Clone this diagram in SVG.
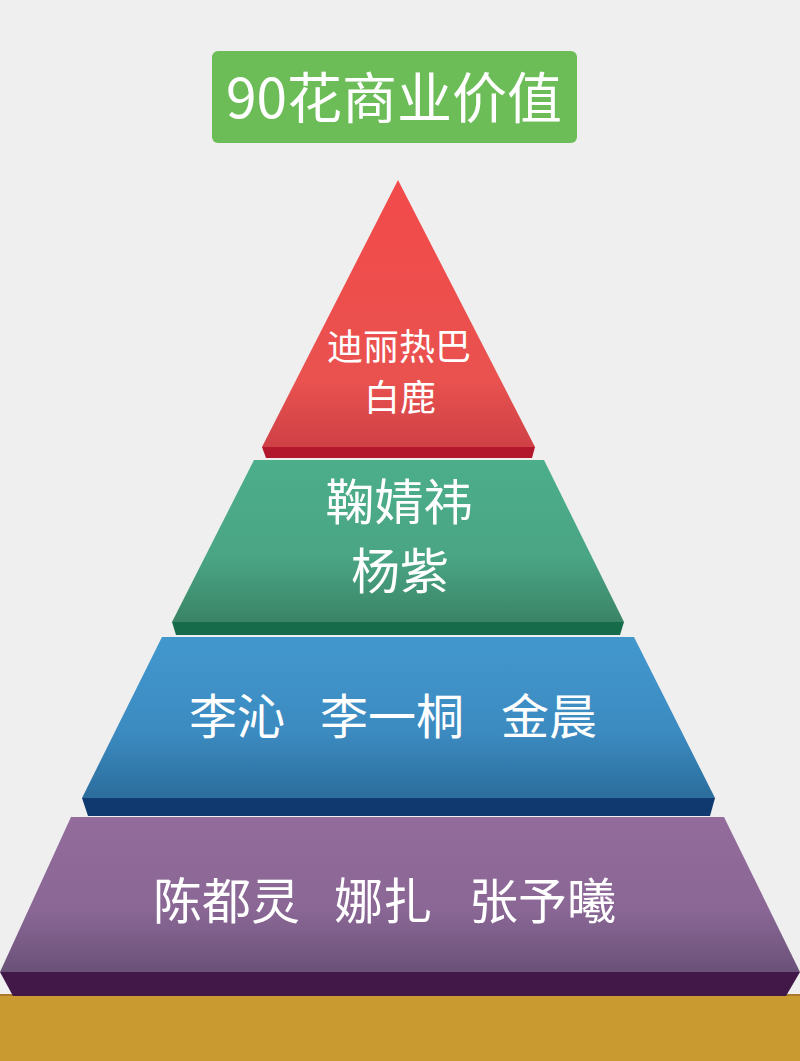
<svg xmlns="http://www.w3.org/2000/svg" width="800" height="1061" viewBox="0 0 800 1061">
  <defs>
    <linearGradient id="gRed" x1="0" y1="0" x2="0" y2="1">
      <stop offset="0" stop-color="#f24a4a"/>
      <stop offset="0.75" stop-color="#e9524f"/>
      <stop offset="1" stop-color="#cf4046"/>
    </linearGradient>
    <linearGradient id="gGreen" x1="0" y1="0" x2="0" y2="1">
      <stop offset="0" stop-color="#4cae8a"/>
      <stop offset="0.6" stop-color="#4aa585"/>
      <stop offset="1" stop-color="#3a8466"/>
    </linearGradient>
    <linearGradient id="gBlue" x1="0" y1="0" x2="0" y2="1">
      <stop offset="0" stop-color="#4298cd"/>
      <stop offset="0.6" stop-color="#3b8ac0"/>
      <stop offset="1" stop-color="#2b6d9c"/>
    </linearGradient>
    <linearGradient id="gPurple" x1="0" y1="0" x2="0" y2="1">
      <stop offset="0" stop-color="#936c9c"/>
      <stop offset="0.6" stop-color="#8a6795"/>
      <stop offset="1" stop-color="#6a5178"/>
    </linearGradient>
    <style>
      .lbl { font-family: "Noto Sans CJK SC", "Noto Sans", sans-serif; fill: #ffffff; font-weight: 400; }
    </style>
  </defs>
  <rect x="0" y="0" width="800" height="1061" fill="#efefef"/>

  <g id="title">
    <rect x="212" y="51" width="365" height="92" rx="6" fill="#6cbd58"/>
    <text class="lbl" x="394" y="118" font-size="55" text-anchor="middle">90花商业价值</text>
  </g>

  <g id="base">
    <rect x="0" y="995" width="800" height="66" fill="#c99a30"/>
    <rect x="0" y="994" width="800" height="2" fill="#a87a2a"/>
  </g>

  <g id="tier4">
    <polygon points="0,972 800,972 786,996 13,996" fill="#421849"/>
    <polygon points="71,817 724,817 800,972 0,972" fill="url(#gPurple)"/>
    <text class="lbl" y="919" font-size="49"><tspan x="153">陈都灵</tspan><tspan x="334">娜扎</tspan><tspan x="469">张予曦</tspan></text>
  </g>

  <g id="tier3">
    <polygon points="82,798 715,798 710,816 88,816" fill="#10396f"/>
    <polygon points="162,637 634,637 715,798 82,798" fill="url(#gBlue)"/>
    <text class="lbl" y="734" font-size="48"><tspan x="189">李沁</tspan><tspan x="320">李一桐</tspan><tspan x="501">金晨</tspan></text>
  </g>

  <g id="tier2">
    <polygon points="172,622 624,622 620,635 176,635" fill="#166b4b"/>
    <polygon points="254,460 544,460 624,622 172,622" fill="url(#gGreen)"/>
    <text class="lbl" x="399" y="520" font-size="49" text-anchor="middle">鞠婧祎</text>
    <text class="lbl" x="400" y="589" font-size="49" text-anchor="middle">杨紫</text>
  </g>

  <g id="tier1">
    <polygon points="262,447 535,447 532,458 266,458" fill="#b3172b"/>
    <polygon points="398,180 535,447 262,447" fill="url(#gRed)"/>
    <text class="lbl" x="399" y="360" font-size="36" text-anchor="middle">迪丽热巴</text>
    <text class="lbl" x="400" y="411" font-size="36" text-anchor="middle">白鹿</text>
  </g>
</svg>
